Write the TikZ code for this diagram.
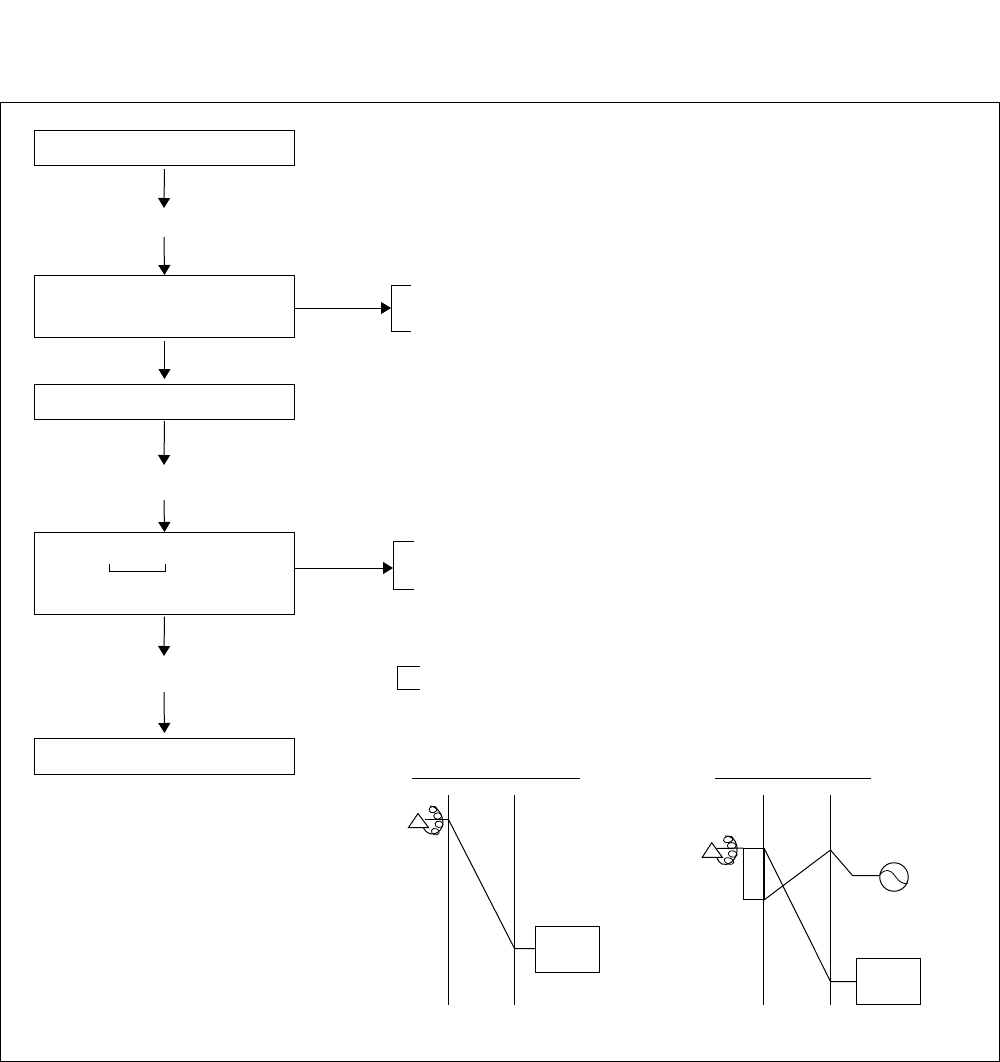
\documentclass[tikz,border=0pt]{standalone}
\usetikzlibrary{arrows.meta}
\tikzset{
  ln/.style={line width=1pt,draw=black},
  flowbox/.style={ln,rectangle,inner sep=0pt,minimum width=260pt,anchor=north west},
  arr/.style={ln,-{Triangle[length=10pt,width=12pt]}},
  coilring/.style={line width=0.8pt,draw=black},
  smallbox/.style={ln,rectangle,inner sep=0pt,anchor=north west},
}
\begin{document}
\begin{tikzpicture}[x=1pt,y=-1pt]
\useasboundingbox (0,0) rectangle (1000,1062);
\fill[white] (0,0) rectangle (1000,1062);
\draw[ln] (0.5,102.5) rectangle (999.5,1061);
% flow boxes
\node[flowbox,minimum height=35pt] (b1) at (34,130) {};
\node[flowbox,minimum height=62pt] (b2) at (34,275) {};
\node[flowbox,minimum height=35pt] (b3) at (34,384) {};
\node[flowbox,minimum height=81.5pt] (b4) at (34,532) {};
\node[flowbox,minimum height=35.5pt] (b5) at (34,738) {};
% free ends of the vertical arrows
\coordinate (t1) at (164,208);
\coordinate (s2) at (164,237);
\coordinate (t3) at (164,465);
\coordinate (s4) at (164,500);
\coordinate (t5) at (164,656);
\coordinate (s6) at (164,692);
\draw[arr,shorten <=3pt] (b1.south) -- (t1);
\draw[arr] (s2) -- (b2.north);
\draw[arr,shorten <=3pt,shorten >=5pt] (b2.south) -- (b3.north);
\draw[arr,shorten <=1pt] (b3.south) -- (t3);
\draw[arr] (s4) -- (b4.north);
\draw[arr,shorten <=2pt] (b4.south) -- (t5);
\draw[arr,shorten >=5pt] (s6) -- (b5.north);
% side arrows and brackets
\coordinate (k1) at (391,308);
\coordinate (k2) at (393,568);
\draw[arr] (294,308) -- (k1);
\draw[arr] (294,568) -- (k2);
\draw[ln] (411,285.5) -- (391,285.5) -- (391,331.5) -- (411,331.5);
\draw[ln] (414,541.5) -- (393,541.5) -- (393,589.5) -- (414,589.5);
\draw[ln] (420,666.5) -- (397.5,666.5) -- (397.5,689.5) -- (420,689.5);
\draw[ln] (109.5,563.5) -- (109.5,571.5) -- (165.5,571.5) -- (165.5,563.5);
% left circuit
\draw[ln] (412,778.5) -- (580,778.5);
\draw[ln] (448.5,795) -- (448.5,1005);
\draw[ln] (514.5,795) -- (514.5,1005);
\node[smallbox,minimum width=64pt,minimum height=46pt] (m1) at (535,926) {};
\coordinate (j1) at (448.5,819.5);
\coordinate (j2) at (514.5,948.5);
\draw[ln] (j1) -- (j2) -- (j2 -| m1.west);
\draw[ln] (430,806) .. controls (441,807) and (445,822) .. (442,827) .. controls (439,835) and (428,837) .. (423.5,828);
\foreach \cx/\cy/\ca in {433/809.5/15,437.7/816/0,439/824.3/-10,435.3/831.7/-20}{
  \draw[coilring,rotate around={\ca:(\cx,\cy)}] (\cx,\cy) ellipse (4pt and 3.2pt);
}
\draw[ln,fill=white] (418,813.5) -- (408.5,827.5) -- (428.5,827.5) -- cycle;
\draw[ln] (425,819.5) -- (j1);
% right circuit
\draw[ln] (715,778.5) -- (871,778.5);
\draw[ln] (763.5,795) -- (763.5,1005);
\draw[ln] (830.5,795) -- (830.5,1005);
\node[smallbox,minimum width=20pt,minimum height=51pt] (c1) at (743,848) {};
\draw[line width=1.6pt] (c1.north east) -- (c1.south east);
\node[smallbox,minimum width=64pt,minimum height=46pt] (m2) at (856,958) {};
\node[ln,circle,inner sep=0pt,minimum size=28.5pt] (g) at (894,877) {};
\coordinate (j3) at (830.5,850);
\coordinate (j4) at (830.5,981.5);
\coordinate (j5) at (852.5,875.5);
\draw[ln] (c1.north east) -- (j4) -- (j4 -| m2.west);
\draw[ln] (c1.south east) -- (j3) -- (j5) -- (g.west |- j5);
\draw[ln] (725,836) .. controls (735,836) and (738,845) .. (737,851) .. controls (736,862) and (727,866) .. (722,864) .. controls (720,863) and (718,861) .. (717,858);
\foreach \cx/\cy/\ca/\rx in {728.3/839.3/15/5,731.7/845.7/0/4.5,732.7/854/-10/4.5,729/861/-20/5}{
  \draw[coilring,rotate around={\ca:(\cx,\cy)}] (\cx,\cy) ellipse (\rx pt and 3.2pt);
}
\draw[ln,fill=white] (711.7,842.7) -- (702.3,857.3) -- (722.3,857.3) -- cycle;
\draw[ln] (716.5,848.5) -- (c1.north west);
\draw[line width=0.8pt] (g.west |- j5) .. controls (885,868) and (890,869) .. (895,876) .. controls (899,882) and (904,885) .. (908,883);
\end{tikzpicture}
\end{document}
